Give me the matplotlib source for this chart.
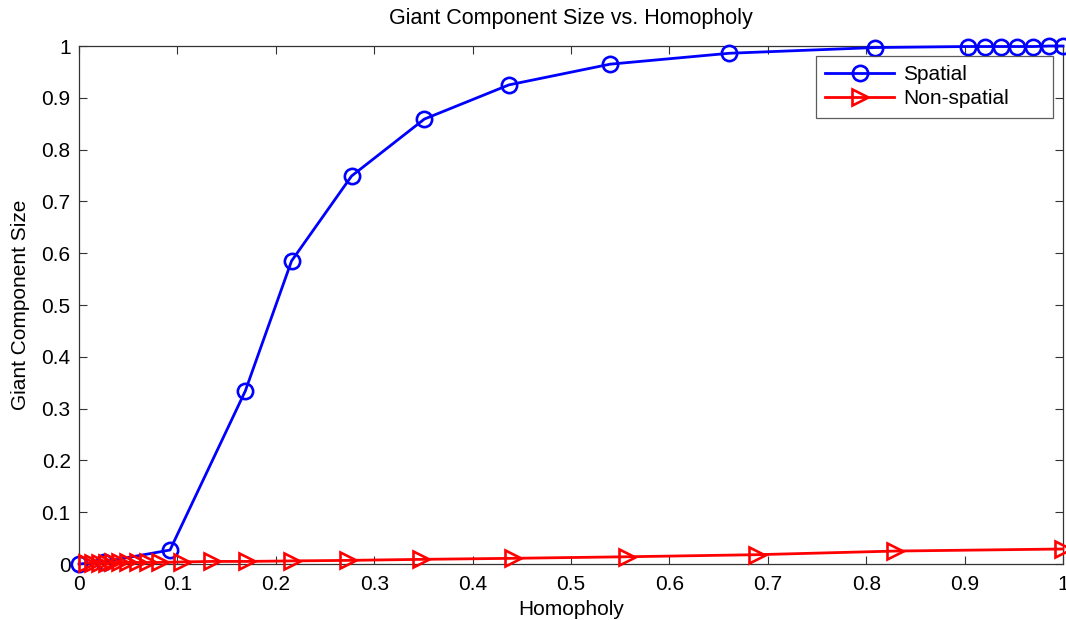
import matplotlib
matplotlib.use("Agg")
import matplotlib.pyplot as plt

# Data
spatial_x = [0.0, 0.025, 0.0925, 0.169, 0.216, 0.277, 0.351, 0.437, 0.540, 0.661, 0.809,
             0.903, 0.921, 0.937, 0.953, 0.970, 0.986, 1.0]
spatial_y = [0.0, 0.004, 0.027, 0.334, 0.585, 0.749, 0.859, 0.925, 0.965, 0.986, 0.997,
             0.999, 0.999, 0.999, 0.999, 0.999, 1.0, 1.0]

nonspatial_x = [0.008, 0.014, 0.021, 0.028, 0.035, 0.042, 0.050, 0.060, 0.070, 0.082,
                0.105, 0.135, 0.171, 0.216, 0.273, 0.348, 0.441, 0.557, 0.689, 0.829, 1.0]
nonspatial_y = [0.002, 0.002, 0.002, 0.002, 0.003, 0.003, 0.003, 0.003, 0.003, 0.003,
                0.004, 0.005, 0.005, 0.006, 0.007, 0.009, 0.011, 0.014, 0.018, 0.025, 0.029]

xticks = [0, 0.1, 0.2, 0.3, 0.4, 0.5, 0.6, 0.7, 0.8, 0.9, 1]
xticklabels = ["0", "0.1", "0.2", "0.3", "0.4", "0.5", "0.6", "0.7", "0.8", "0.9", "1"]
yticks = [0, 0.1, 0.2, 0.3, 0.4, 0.5, 0.6, 0.7, 0.8, 0.9, 1]
yticklabels = ["0", "0.1", "0.2", "0.3", "0.4", "0.5", "0.6", "0.7", "0.8", "0.9", "1"]

plt.rcParams['font.family'] = ['Liberation Sans', 'DejaVu Sans']

fig = plt.figure(figsize=(10.66, 6.2), dpi=100)
ax = fig.add_axes([0.0741, 0.0903, 0.9231, 0.8355])

ax.plot(spatial_x, spatial_y, color=(0, 0, 1), lw=2.0, marker='o', markersize=11,
        markerfacecolor='none', markeredgewidth=1.9, label='Spatial', clip_on=False, zorder=3)
ax.plot(nonspatial_x, nonspatial_y, color=(1, 0, 0), lw=2.0, marker='>', markersize=11,
        markerfacecolor='none', markeredgewidth=1.9, label='Non-spatial', clip_on=False, zorder=3)

ax.set_xlim(0, 1)
ax.set_ylim(0, 1)
ax.set_xticks(xticks)
ax.set_xticklabels(xticklabels)
ax.set_yticks(yticks)
ax.set_yticklabels(yticklabels)
ax.tick_params(direction='in', top=True, right=True, length=6, width=0.8,
               labelsize=15, color='#333333', pad=6)
ax.tick_params(axis='x', pad=8)
for s in ax.spines.values():
    s.set_color('#333333')
    s.set_linewidth(0.9)

ax.set_xlabel('Homopholy', fontsize=15, labelpad=4)
ax.set_ylabel('Giant Component Size', fontsize=15, labelpad=8)
ax.set_title('Giant Component Size vs. Homopholy', fontsize=15.5, pad=16)

leg = ax.legend(loc='upper left', bbox_to_anchor=(0.749, 0.5, 0.241, 0.481),
                mode='expand', borderaxespad=0,
                fontsize=15, frameon=True, fancybox=False, handlelength=3.3,
                borderpad=0.45, labelspacing=0.25, handletextpad=0.45)
leg.get_frame().set_edgecolor('#333333')
leg.get_frame().set_linewidth(0.9)

fig.savefig('out.png', dpi=100)
